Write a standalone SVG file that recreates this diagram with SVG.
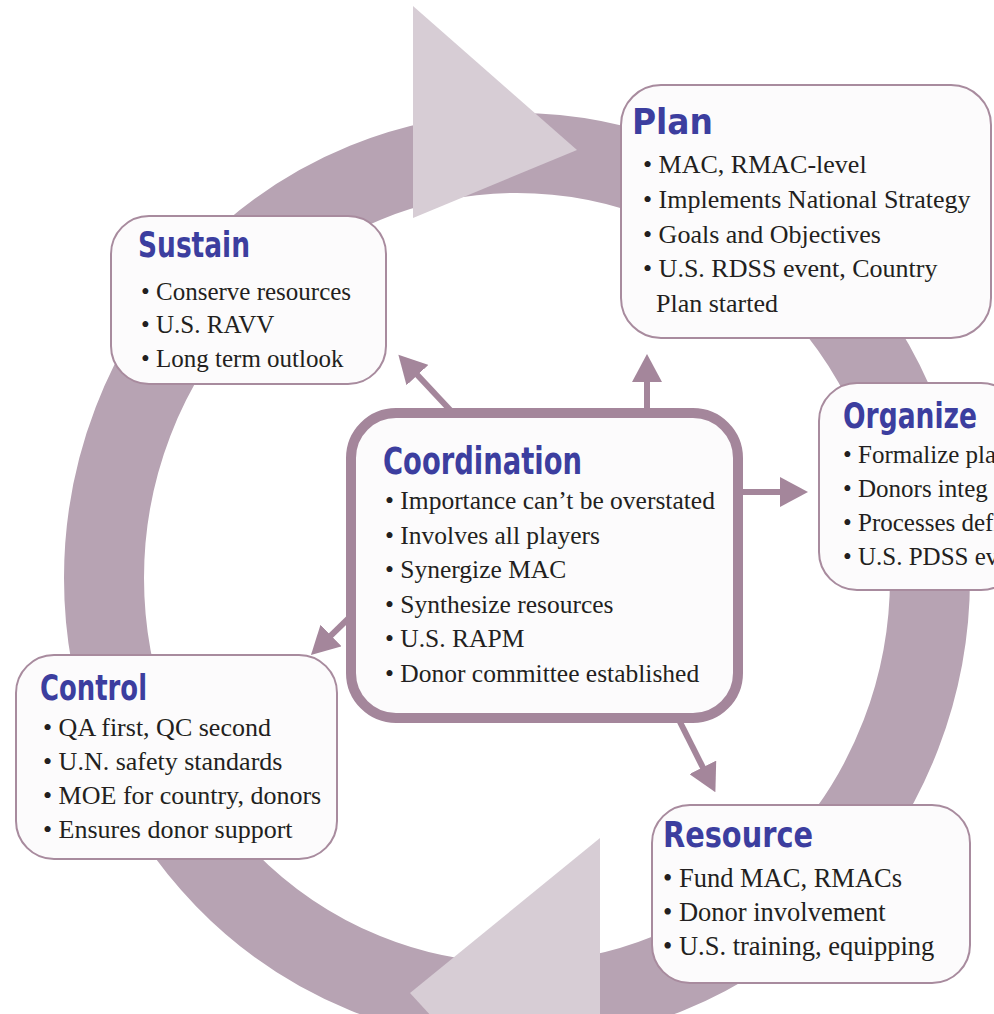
<svg xmlns="http://www.w3.org/2000/svg" width="994" height="1014" viewBox="0 0 994 1014">
<style>
.box{fill:#fcfbfc;stroke:#a88b9e;stroke-width:2}
.title{font-family:"Liberation Sans Narrow","DejaVu Sans Condensed","DejaVu Sans",sans-serif;font-weight:bold;font-size:35px;fill:#3c3e9f}
.txt{font-family:"Liberation Serif","DejaVu Serif",serif;font-size:25px;fill:#231f20}
.conn{stroke:#a4869b;stroke-width:6;fill:none}
</style>
<defs>
<marker id="ah" markerUnits="userSpaceOnUse" markerWidth="28" markerHeight="30" viewBox="0 0 28 30" refX="6" refY="15" orient="auto">
<path d="M0,0 L28,15 L0,30 Z" fill="#a4869b"/>
</marker>
</defs>
<rect width="994" height="1014" fill="#ffffff"/>
<g id="cycle">
<ellipse cx="517" cy="578" rx="413" ry="425" fill="none" stroke="#b7a3b3" stroke-width="80"/>
<polygon points="413,6 413,218 577,150" fill="#d7cdd5"/>
<polygon points="600,838 600,1200 410,993" fill="#d7cdd5"/>
</g>
<g id="connectors">
<line class="conn" x1="452" y1="412" x2="413.4" y2="370.7" marker-end="url(#ah)"/>
<line class="conn" x1="647" y1="412" x2="647" y2="376" marker-end="url(#ah)"/>
<line class="conn" x1="740" y1="492" x2="786" y2="492" marker-end="url(#ah)"/>
<line class="conn" x1="352" y1="615" x2="326.7" y2="639.7" marker-end="url(#ah)"/>
<line class="conn" x1="678" y1="718" x2="705.5" y2="772.7" marker-end="url(#ah)"/>
</g>
<g id="plan">
<rect class="box" x="621" y="85" width="370" height="253" rx="40"/>
<text class="title" x="632" y="134" textLength="81" lengthAdjust="spacingAndGlyphs">Plan</text>
<g class="txt" style="font-size:26px">
<text x="643" y="173">• MAC, RMAC-level</text>
<text x="643" y="208">• Implements National Strategy</text>
<text x="643" y="243">• Goals and Objectives</text>
<text x="643" y="277">• U.S. RDSS event, Country</text>
<text x="656" y="312">Plan started</text>
</g>
</g>
<g id="sustain">
<rect class="box" x="111" y="216" width="275" height="168" rx="38"/>
<text class="title" x="138" y="257" textLength="112" lengthAdjust="spacingAndGlyphs">Sustain</text>
<text class="txt" x="141" y="300">• Conserve resources</text>
<text class="txt" x="141" y="333">• U.S. RAVV</text>
<text class="txt" x="141" y="367">• Long term outlook</text>
</g>
<g id="organize">
<rect class="box" x="819" y="383" width="200" height="207" rx="38"/>
<text class="title" x="843" y="428" textLength="134" lengthAdjust="spacingAndGlyphs">Organize</text>
<text class="txt" x="843" y="463">• Formalize pla</text>
<text class="txt" x="843" y="497">• Donors integ</text>
<text class="txt" x="843" y="531">• Processes defi</text>
<text class="txt" x="843" y="565">• U.S. PDSS ev</text>
</g>
<g id="coordination">
<rect x="351" y="413" width="387" height="305" rx="45" fill="#fcfbfc" stroke="#a4869b" stroke-width="10"/>
<text class="title" x="383" y="474" style="font-size:37px" textLength="199" lengthAdjust="spacingAndGlyphs">Coordination</text>
<g class="txt" style="font-size:25.5px">
<text x="385" y="509">• Importance can’t be overstated</text>
<text x="385" y="544">• Involves all players</text>
<text x="385" y="578">• Synergize MAC</text>
<text x="385" y="613">• Synthesize resources</text>
<text x="385" y="647">• U.S. RAPM</text>
<text x="385" y="682">• Donor committee established</text>
</g>
</g>
<g id="control">
<rect class="box" x="16" y="655" width="321" height="204" rx="38"/>
<text class="title" x="40" y="700" textLength="107" lengthAdjust="spacingAndGlyphs">Control</text>
<g class="txt" style="font-size:26px">
<text x="43" y="736">• QA first, QC second</text>
<text x="43" y="770">• U.N. safety standards</text>
<text x="43" y="804">• MOE for country, donors</text>
<text x="43" y="838">• Ensures donor support</text>
</g>
</g>
<g id="resource">
<rect class="box" x="652" y="805" width="318" height="178" rx="38"/>
<text class="title" x="663" y="847" textLength="150" lengthAdjust="spacingAndGlyphs">Resource</text>
<g class="txt" style="font-size:26.5px">
<text x="663" y="887">• Fund MAC, RMACs</text>
<text x="663" y="921">• Donor involvement</text>
<text x="663" y="955">• U.S. training, equipping</text>
</g>
</g>
</svg>
